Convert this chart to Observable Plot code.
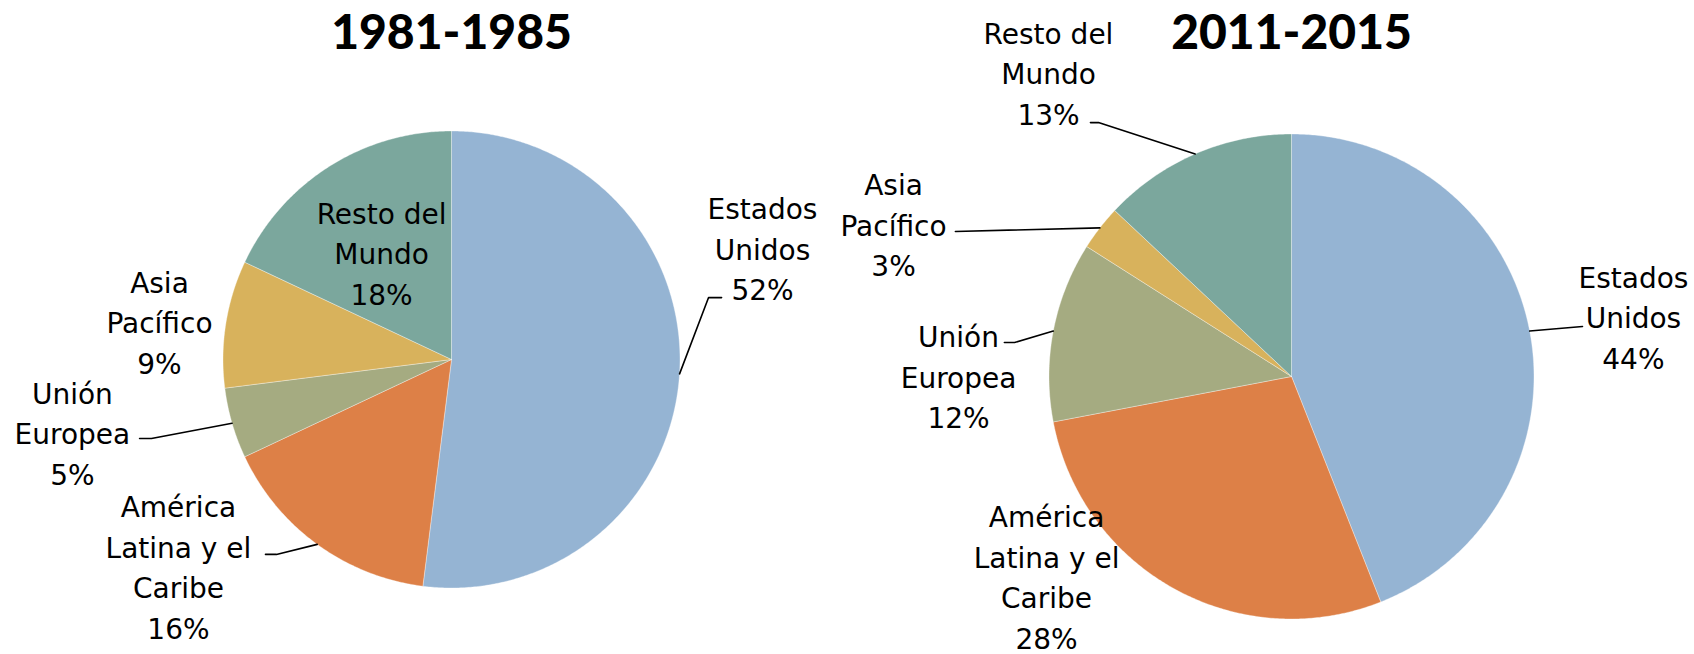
<!DOCTYPE html>
<html><head><meta charset="utf-8">
<script src="https://cdn.jsdelivr.net/npm/d3@7"></script>
<script src="https://cdn.jsdelivr.net/npm/@observablehq/plot@0.6"></script>
<style>body{margin:0;background:#fff} #wrap{display:flex;width:1694px;height:654px;overflow:hidden}</style>
</head><body><div id="wrap"></div>
<script>
// ---- data ----
const regions = ["Estados Unidos", "América Latina y el Caribe", "Unión Europea", "Asia Pacífico", "Resto del Mundo"];
const labelNames = ["Estados\nUnidos", "América\nLatina y el\nCaribe", "Unión\nEuropea", "Asia\nPacífico", "Resto del\nMundo"];
const periods = ["1981-1985", "2011-2015"];
const shares1981 = [52, 16, 5, 9, 18];
const shares2011 = [44, 28, 12, 3, 13];
const colors = ["#95B4D3", "#DD8047", "#A5AB81", "#D8B25C", "#7BA79D"];

// ---- layout (in units of pie radius, relative to pie centre, y up) ----
const layout1981 = {
  x: [-1.9737, 1.7330], y: [-1.2910, 1.5711],
  pos: [[1.361, 0.494], [-1.195, -0.899], [-1.659, -0.315], [-1.278, 0.171], [-0.306, 0.473]],
  leader: [[[1.182, 0.271], [1.125, 0.271]], [[-0.814, -0.853], [-0.766, -0.853]], [[-1.365, -0.346], [-1.313, -0.346]], null, null],
  title: 1.427
};
const layout2011 = {
  x: [-1.8309, 1.6619], y: [-1.1464, 1.5505],
  pos: [[1.410, 0.252], [-1.010, -0.818], [-1.373, 0.008], [-1.641, 0.635], [-1.002, 1.258]],
  leader: [[[1.200, 0.206]], null, [[-1.184, 0.140], [-1.142, 0.140]], [[-1.386, 0.598]], [[-0.829, 1.047], [-0.796, 1.047]]],
  title: 1.414
};

function pie(values, period, layout) {
  const arcs = d3.pie().sort(null).value(d => d)(values);
  const slicePts = [];
  arcs.forEach((a, i) => {
    slicePts.push({k: regions[i], x: 0, y: 0});
    const n = Math.max(2, Math.ceil((a.endAngle - a.startAngle) / (Math.PI / 360)));
    for (let j = 0; j <= n; j++) {
      const t = a.startAngle + (a.endAngle - a.startAngle) * j / n;
      slicePts.push({k: regions[i], x: Math.sin(t), y: Math.cos(t)});
    }
    slicePts.push({k: regions[i], x: 0, y: 0});
  });
  const labels = arcs.map((a, i) => ({text: labelNames[i] + "\n" + values[i] + "%", x: layout.pos[i][0], y: layout.pos[i][1]}));
  const leaders = [];
  arcs.forEach((a, i) => {
    const L = layout.leader[i];
    if (!L) return;
    const m = (a.startAngle + a.endAngle) / 2;
    L.forEach(p => leaders.push({k: i, x: p[0], y: p[1]}));
    leaders.push({k: i, x: Math.sin(m), y: Math.cos(m)});
  });
  return Plot.plot({
    width: 847, height: 654, margin: 0,
    x: {domain: layout.x, axis: null},
    y: {domain: layout.y, axis: null},
    color: {domain: regions, range: colors},
    style: {background: "white", overflow: "visible"},
    marks: [
      Plot.line(slicePts, {x: "x", y: "y", z: "k", fill: "k", stroke: "white", strokeWidth: 0.35, curve: "linear"}),
      Plot.line(leaders, {x: "x", y: "y", z: "k", stroke: "black", strokeWidth: 1.6}),
      Plot.text(labels, {x: "x", y: "y", text: "text", fontSize: 28, lineHeight: 1.45, lineAnchor: "middle", textAnchor: "middle", fill: "black", fontFamily: "DejaVu Sans"}),
      Plot.text([period], {x: 0, y: layout.title, text: d => d, fontSize: 48, fontWeight: 900, fontFamily: "Lato", fill: "black", lineAnchor: "middle"})
    ]
  });
}

const wrap = document.getElementById("wrap");
wrap.appendChild(pie(shares1981, periods[0], layout1981));
wrap.appendChild(pie(shares2011, periods[1], layout2011));
</script>
</body></html>
